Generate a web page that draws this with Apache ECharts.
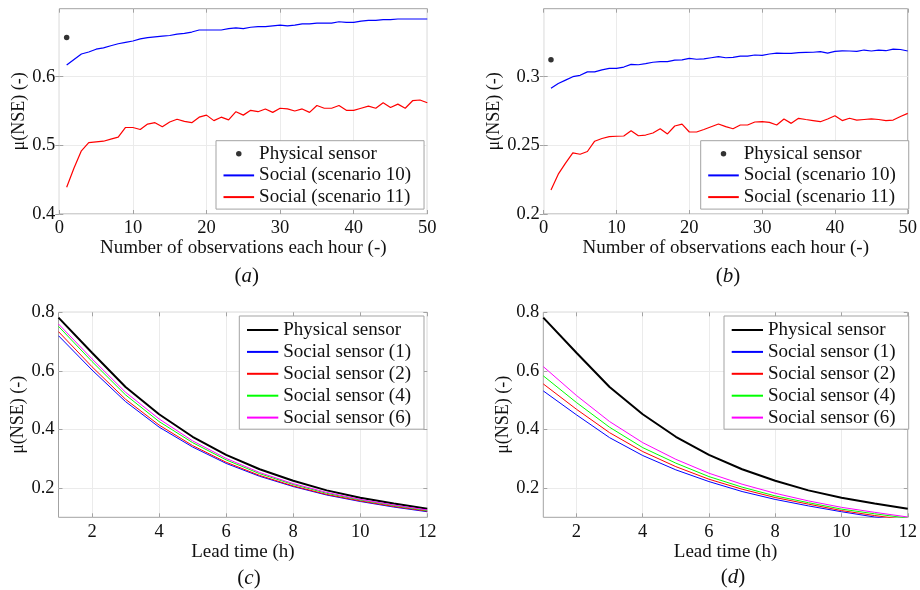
<!DOCTYPE html>
<html>
<head>
<meta charset="utf-8">
<script src="https://cdn.jsdelivr.net/npm/echarts@6/dist/echarts.min.js"></script>
<style>
html,body{margin:0;padding:0;background:#fff;}
#chart{width:920px;height:590px;}
</style>
</head>
<body>
<div id="chart"></div>
<script>
// ---------- data ----------
const obsCount = [1,2,3,4,5,6,7,8,9,10,11,12,13,14,15,16,17,18,19,20,21,22,23,24,25,26,27,28,29,30,31,32,33,34,35,36,37,38,39,40,41,42,43,44,45,46,47,48,49,50];
const physA = 0.657;
const scen10A = [0.617,0.625,0.633,0.636,0.640,0.642,0.645,0.648,0.650,0.652,0.655,0.657,0.658,0.659,0.660,0.662,0.663,0.665,0.668,0.668,0.668,0.668,0.670,0.671,0.670,0.672,0.673,0.673,0.674,0.675,0.674,0.675,0.677,0.677,0.678,0.678,0.678,0.680,0.679,0.679,0.681,0.682,0.682,0.683,0.683,0.684,0.684,0.684,0.684,0.684];
const scen11A = [0.439,0.467,0.492,0.504,0.505,0.506,0.509,0.512,0.526,0.526,0.523,0.531,0.533,0.527,0.534,0.538,0.535,0.533,0.541,0.544,0.536,0.541,0.537,0.549,0.544,0.551,0.549,0.553,0.548,0.554,0.553,0.550,0.553,0.548,0.558,0.554,0.554,0.558,0.551,0.551,0.554,0.557,0.554,0.562,0.555,0.560,0.554,0.565,0.566,0.562];
const physB = 0.3124;
const scen10B = [0.2915,0.295,0.2975,0.300,0.301,0.3035,0.3035,0.305,0.306,0.306,0.307,0.309,0.3087,0.3095,0.3105,0.311,0.311,0.312,0.3122,0.3133,0.3127,0.313,0.3138,0.3146,0.3138,0.3141,0.315,0.315,0.3158,0.3155,0.3165,0.3172,0.317,0.317,0.3175,0.3177,0.3178,0.3182,0.3172,0.3184,0.3188,0.3187,0.3184,0.3194,0.3187,0.3194,0.3189,0.3201,0.3198,0.3187];
const scen11B = [0.2175,0.229,0.237,0.2445,0.2435,0.2455,0.253,0.255,0.2563,0.2566,0.2568,0.2607,0.257,0.2575,0.259,0.2621,0.2583,0.2641,0.2655,0.2597,0.2597,0.2615,0.2635,0.2655,0.2636,0.2621,0.2648,0.2648,0.267,0.2672,0.2667,0.2648,0.2692,0.266,0.2697,0.2688,0.268,0.2672,0.2692,0.2716,0.268,0.2697,0.2684,0.2688,0.2692,0.2688,0.268,0.2684,0.271,0.2733];

const leadTime = [1,2,3,4,5,6,7,8,9,10,11,12];
const physLead = [0.782,0.662,0.545,0.452,0.375,0.313,0.264,0.225,0.192,0.167,0.147,0.129];
const soc1C = [0.720,0.603,0.495,0.408,0.340,0.284,0.240,0.205,0.176,0.154,0.135,0.119];
const soc2C = [0.734,0.614,0.503,0.415,0.345,0.288,0.243,0.207,0.178,0.156,0.137,0.121];
const soc4C = [0.752,0.632,0.518,0.427,0.355,0.296,0.249,0.212,0.182,0.159,0.140,0.123];
const soc6C = [0.760,0.641,0.527,0.436,0.361,0.301,0.253,0.215,0.185,0.161,0.142,0.125];
const soc1D = [0.5315,0.450,0.372,0.311,0.262,0.222,0.188,0.161,0.139,0.119,0.101,0.087];
const soc2D = [0.5554,0.469,0.389,0.3245,0.273,0.230,0.196,0.1675,0.145,0.123,0.106,0.091];
const soc4D = [0.583,0.492,0.4075,0.338,0.285,0.239,0.203,0.173,0.150,0.128,0.112,0.097];
const soc6D = [0.6146,0.516,0.427,0.355,0.298,0.2505,0.213,0.182,0.156,0.134,0.117,0.101];

const obsTicks = [0,10,20,30,40,50];
const leadTicks = [2,4,6,8,10,12];
const yTicksA = [0.4,0.5,0.6];
const yTicksB = [0.2,0.25,0.3];
const yTicksCD = [0.2,0.4,0.6,0.8];

const legendTop = ['Physical sensor','Social (scenario 10)','Social (scenario 11)'];
const legendBottom = ['Physical sensor','Social sensor (1)','Social sensor (2)','Social sensor (4)','Social sensor (6)'];
const xNameTop = 'Number of observations each hour (-)';
const xNameBottom = 'Lead time (h)';
const yName = 'μ(NSE) (-)';
const panelTags = ['a','b','c','d'];

// ---------- helpers ----------
const FONT = 'Liberation Serif';
const TXT = '#111111';
const frameColor = '#a3a3a3';
const gridColor = '#ebebeb';
const pairs = (xs, ys) => xs.map((x, i) => [x, ys[i]]);
const uid = (name, p) => name + '#' + p;   // unique series name per panel

function xAxisCfg(idx, min, max, ticks, name, gap) {
  return {
    type: 'value', gridIndex: idx, min: min, max: max,
    name: name, nameLocation: 'middle', nameGap: gap,
    nameTextStyle: {fontFamily: FONT, fontSize: 19, color: TXT},
    axisLine: {show: false},
    axisTick: {show: true, inside: true, length: 4, lineStyle: {color: frameColor}, customValues: ticks},
    axisLabel: {fontFamily: FONT, fontSize: 18.5, color: TXT, margin: 5, customValues: ticks},
    splitLine: {show: true, lineStyle: {color: gridColor, width: 1}}
  };
}
function yAxisCfg(idx, min, max, ticks, gap) {
  return {
    type: 'value', gridIndex: idx, min: min, max: max,
    name: yName, nameLocation: 'middle', nameGap: gap,
    nameTextStyle: {fontFamily: FONT, fontSize: 18, color: TXT},
    axisLine: {show: false},
    axisTick: {show: true, inside: true, length: 4, lineStyle: {color: frameColor}, customValues: ticks},
    axisLabel: {fontFamily: FONT, fontSize: 18.5, color: TXT, margin: 4, customValues: ticks},
    splitLine: {show: true, lineStyle: {color: gridColor, width: 1}}
  };
}
function mirrorX(idx, min, max, ticks) {
  return {type: 'value', gridIndex: idx, min: min, max: max, position: 'top',
    axisLine: {show: false}, axisLabel: {show: false}, splitLine: {show: false},
    axisTick: {show: true, inside: true, length: 4, lineStyle: {color: frameColor}, customValues: ticks}};
}
function mirrorY(idx, min, max, ticks) {
  return {type: 'value', gridIndex: idx, min: min, max: max, position: 'right',
    axisLine: {show: false}, axisLabel: {show: false}, splitLine: {show: false},
    axisTick: {show: true, inside: true, length: 4, lineStyle: {color: frameColor}, customValues: ticks}};
}
function lineS(name, idx, xs, ys, color, width) {
  return {
    type: 'line', name: uid(name, panelTags[idx]), xAxisIndex: idx, yAxisIndex: idx,
    data: pairs(xs, ys), symbol: 'none', showSymbol: false, clip: true,
    lineStyle: {color: color, width: width}, itemStyle: {color: color},
    animation: false, silent: true
  };
}
function legendCfg(names, p, firstIsDot, left, top, itemW, itemH, gap, pad) {
  return {
    orient: 'vertical', left: left, top: top,
    data: names.map((n, i) => (i === 0 && firstIsDot)
      ? {name: uid(n, p)}
      : {name: uid(n, p), itemStyle: {opacity: 0}}),
    formatter: n => n.split('#')[0],
    itemWidth: itemW, itemHeight: itemH, itemGap: gap, padding: pad,
    borderColor: frameColor, borderWidth: 1, backgroundColor: '#fff',
    textStyle: {fontFamily: FONT, fontSize: 19, color: TXT, lineHeight: 20},
    selectedMode: false
  };
}

const grids = [
  {left: 59.3, top: 8.7, width: 368, height: 205.3},
  {left: 543.7, top: 8.7, width: 368, height: 205.3},
  {left: 58.5, top: 312.3, width: 368.8, height: 205},
  {left: 543.3, top: 312.3, width: 368.4, height: 205}
].map(g => Object.assign({show: true, borderColor: frameColor, borderWidth: 1, backgroundColor: 'transparent'}, g));

const option = {
  animation: false,
  backgroundColor: '#fff',
  grid: grids,
  xAxis: [
    xAxisCfg(0, 0, 50, obsTicks, xNameTop, 21),
    xAxisCfg(1, 0, 50, obsTicks, xNameTop, 21),
    xAxisCfg(2, 1, 12, leadTicks, xNameBottom, 22),
    xAxisCfg(3, 1, 12, leadTicks, xNameBottom, 22),
    mirrorX(0, 0, 50, obsTicks), mirrorX(1, 0, 50, obsTicks),
    mirrorX(2, 1, 12, leadTicks), mirrorX(3, 1, 12, leadTicks)
  ],
  yAxis: [
    yAxisCfg(0, 0.4, 0.699, yTicksA, 29),
    yAxisCfg(1, 0.2, 0.3495, yTicksB, 39),
    yAxisCfg(2, 0.1, 0.8, yTicksCD, 29),
    yAxisCfg(3, 0.1, 0.8, yTicksCD, 29),
    mirrorY(0, 0.4, 0.699, yTicksA), mirrorY(1, 0.2, 0.3495, yTicksB),
    mirrorY(2, 0.1, 0.8, yTicksCD), mirrorY(3, 0.1, 0.8, yTicksCD)
  ],
  legend: [
    legendCfg(legendTop, 'a', true, 216, 140.7, 30.6, 5.5, 1.7, [3, 13, 2, 6.5]),
    legendCfg(legendTop, 'b', true, 700.7, 140.7, 30.6, 5.5, 1.7, [3, 13, 2, 6.5]),
    legendCfg(legendBottom, 'c', false, 239.3, 316, 31.3, 4, 1.9, [4, 13, 1.6, 6.7]),
    legendCfg(legendBottom, 'd', false, 724, 316, 31.3, 4, 1.9, [4, 13, 1.6, 6.7])
  ],
  series: [
    {type: 'scatter', name: uid(legendTop[0], 'a'), xAxisIndex: 0, yAxisIndex: 0, data: [[obsCount[0], physA]], symbol: 'circle', symbolSize: 5.5, itemStyle: {color: '#000'}, silent: true},
    lineS(legendTop[1], 0, obsCount, scen10A, '#0000ff', 1.2),
    lineS(legendTop[2], 0, obsCount, scen11A, '#ff0000', 1.2),
    {type: 'scatter', name: uid(legendTop[0], 'b'), xAxisIndex: 1, yAxisIndex: 1, data: [[obsCount[0], physB]], symbol: 'circle', symbolSize: 5.5, itemStyle: {color: '#000'}, silent: true},
    lineS(legendTop[1], 1, obsCount, scen10B, '#0000ff', 1.2),
    lineS(legendTop[2], 1, obsCount, scen11B, '#ff0000', 1.2),
    lineS(legendBottom[0], 2, leadTime, physLead, '#000000', 2),
    lineS(legendBottom[1], 2, leadTime, soc1C, '#0000ff', 1),
    lineS(legendBottom[2], 2, leadTime, soc2C, '#ff0000', 1),
    lineS(legendBottom[3], 2, leadTime, soc4C, '#00ff00', 1),
    lineS(legendBottom[4], 2, leadTime, soc6C, '#ff00ff', 1),
    lineS(legendBottom[0], 3, leadTime, physLead, '#000000', 2),
    lineS(legendBottom[1], 3, leadTime, soc1D, '#0000ff', 1),
    lineS(legendBottom[2], 3, leadTime, soc2D, '#ff0000', 1),
    lineS(legendBottom[3], 3, leadTime, soc4D, '#00ff00', 1),
    lineS(legendBottom[4], 3, leadTime, soc6D, '#ff00ff', 1)
  ],
  graphic: [
    [panelTags[0], 246.7, 276.7], [panelTags[1], 728, 276.7], [panelTags[2], 249, 578], [panelTags[3], 733, 577]
  ].map(([t, x, y]) => ({
    type: 'text', x: x, y: y, silent: true,
    style: {
      text: '({i|' + t + '})', align: 'center', verticalAlign: 'middle',
      fontFamily: FONT, fontSize: 21, fill: TXT,
      rich: {i: {fontStyle: 'italic', fontFamily: FONT, fontSize: 21, fill: TXT}}
    }
  }))
};

const chart = echarts.init(document.getElementById('chart'), null, {renderer: 'canvas'});
chart.setOption(option);
</script>
</body>
</html>
